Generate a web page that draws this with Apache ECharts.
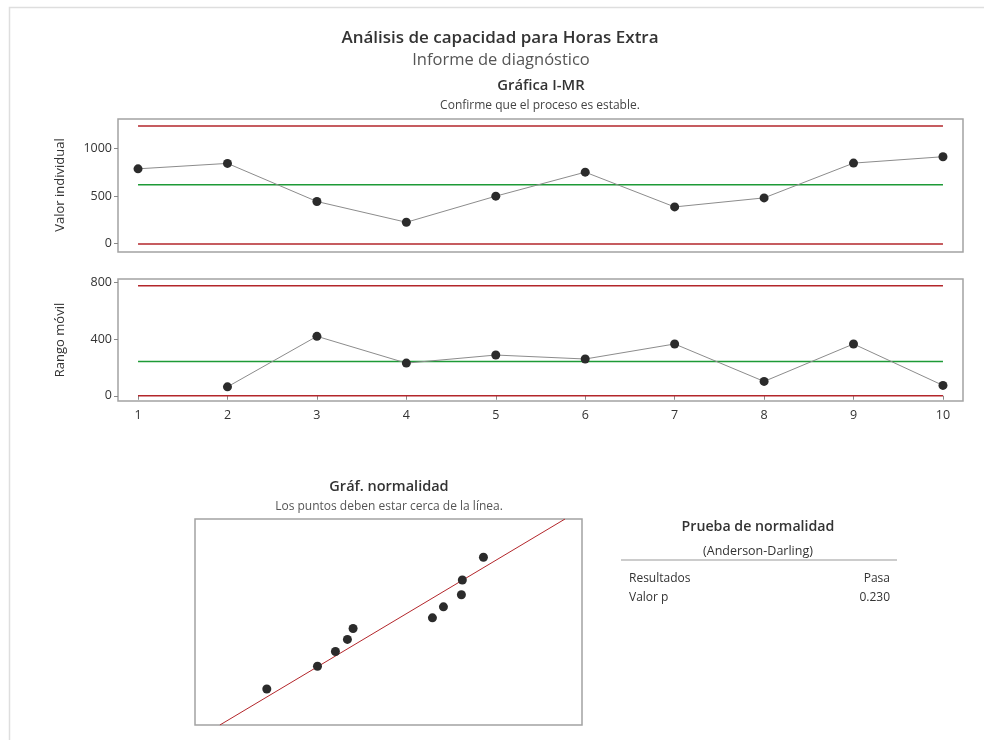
<!DOCTYPE html>
<html>
<head>
<meta charset="utf-8">
<script src="https://cdn.jsdelivr.net/npm/echarts@6/dist/echarts.min.js"></script>
<style>
html,body{margin:0;padding:0;background:#fff;}
#chart{width:984px;height:740px;}
</style>
</head>
<body>
<div id="chart"></div>
<script>
// ---- Data ----
const observations = [1, 2, 3, 4, 5, 6, 7, 8, 9, 10];
const individualValues = [785, 842, 442, 224, 498, 750, 385, 480, 845, 912];
const movingRanges = [null, 63, 419, 230, 287, 259, 365, 101, 365, 73];
const iLimits = { ucl: 1235, cl: 617, lcl: -3 };
const mrLimits = { ucl: 776, cl: 242, lcl: 0 };
const iTicks = [0, 500, 1000];
const mrTicks = [0, 400, 800];
const sortedValues = [224, 385, 442, 480, 498, 750, 785, 842, 845, 912];
const normalScores = [-1.497, -0.980, -0.645, -0.370, -0.121, 0.121, 0.370, 0.645, 0.980, 1.497];
const fitLine = [[75, -2.315], [1171, 2.367]];
const testRows = [["Resultados", "Pasa"], ["Valor p", "0.230"]];

const FONT = '"Open Sans", "Noto Sans", sans-serif';
const RED = '#b3262b', GREEN = '#1d9a36', PT = '#2b2b2b', LN = '#8c8c8c', BOX = '#a3a3a3';

const chart = echarts.init(document.getElementById('chart'), null, { renderer: 'canvas' });

function limitSeries(xi, yi, value, color, width) {
  return {
    type: 'line', xAxisIndex: xi, yAxisIndex: yi, silent: true,
    data: [[observations[0], value], [observations[observations.length - 1], value]],
    symbol: 'none', lineStyle: { color: color, width: width }, z: 2
  };
}
function pointSeries(xi, yi, vals) {
  return {
    type: 'line', xAxisIndex: xi, yAxisIndex: yi,
    data: observations.map((o, i) => [o, vals[i]]),
    connectNulls: false,
    symbol: 'circle', symbolSize: 9, showSymbol: true,
    itemStyle: { color: PT, opacity: 1 },
    lineStyle: { color: LN, width: 1 }, z: 5
  };
}
const yLabel = { color: '#333', fontSize: 12.5, fontFamily: FONT, margin: 6, formatter: v => String(v) };
const tick = { show: true, length: 4, lineStyle: { color: '#888' } };

function txt(x, y, text, font, fill, align, extra) {
  return Object.assign({ type: 'text', x: x, y: y, style: { text: text, font: font, fill: fill, align: align || 'center', verticalAlign: 'middle' } }, extra || {});
}

const option = {
  backgroundColor: '#fff',
  animation: false,
  grid: [
    { left: 118, top: 119, width: 845, height: 133, show: true, borderColor: BOX, borderWidth: 1.5, backgroundColor: '#fff' },
    { left: 118, top: 279, width: 845, height: 122, show: true, borderColor: BOX, borderWidth: 1.5, backgroundColor: '#fff' },
    { left: 195, top: 519, width: 387, height: 206, show: true, borderColor: BOX, borderWidth: 1.5, backgroundColor: '#fff' }
  ],
  xAxis: [
    { type: 'value', gridIndex: 0, min: 0.776, max: 10.224, axisLine: { show: false }, axisTick: { show: false }, axisLabel: { show: false }, splitLine: { show: false } },
    { type: 'value', gridIndex: 1, min: 0.776, max: 10.224, axisLine: { show: false },
      axisTick: Object.assign({}, tick, { customValues: observations }),
      axisLabel: { color: '#333', fontSize: 12.5, fontFamily: FONT, margin: 8, customValues: observations },
      splitLine: { show: false } },
    { type: 'value', gridIndex: 2, min: -4, max: 1225, axisLine: { show: false }, axisTick: { show: false }, axisLabel: { show: false }, splitLine: { show: false } }
  ],
  yAxis: [
    { type: 'value', gridIndex: 0, min: -88, max: 1308, axisLine: { show: false },
      axisTick: Object.assign({}, tick, { customValues: iTicks }),
      axisLabel: Object.assign({}, yLabel, { customValues: iTicks }), splitLine: { show: false } },
    { type: 'value', gridIndex: 1, min: -37, max: 823, axisLine: { show: false },
      axisTick: Object.assign({}, tick, { customValues: mrTicks }),
      axisLabel: Object.assign({}, yLabel, { customValues: mrTicks }), splitLine: { show: false } },
    { type: 'value', gridIndex: 2, min: -2.315, max: 2.367, axisLine: { show: false }, axisTick: { show: false }, axisLabel: { show: false }, splitLine: { show: false } }
  ],
  series: [
    limitSeries(0, 0, iLimits.ucl, RED, 1.5),
    limitSeries(0, 0, iLimits.cl, GREEN, 1.5),
    limitSeries(0, 0, iLimits.lcl, RED, 1.5),
    pointSeries(0, 0, individualValues),
    limitSeries(1, 1, mrLimits.ucl, RED, 1.5),
    limitSeries(1, 1, mrLimits.cl, GREEN, 1.5),
    limitSeries(1, 1, mrLimits.lcl, RED, 1.5),
    pointSeries(1, 1, movingRanges),
    { type: 'line', xAxisIndex: 2, yAxisIndex: 2, data: fitLine, symbol: 'none', lineStyle: { color: RED, width: 1 }, z: 2, silent: true },
    { type: 'scatter', xAxisIndex: 2, yAxisIndex: 2, data: sortedValues.map((v, i) => [v, normalScores[i]]), symbol: 'circle', symbolSize: 9, itemStyle: { color: PT, opacity: 1 }, z: 5 }
  ],
  graphic: [
    { type: 'polyline', shape: { points: [[9.5, 740], [9.5, 7.5], [984, 7.5]] }, style: { stroke: '#dedede', lineWidth: 1.5, fill: null }, silent: true },
    txt(500, 38, 'Análisis de capacidad para Horas Extra', '600 17px ' + FONT, '#333'),
    txt(501, 60, 'Informe de diagnóstico', '16.5px ' + FONT, '#555'),
    txt(541, 86, 'Gráfica I-MR', '600 14.8px ' + FONT, '#333'),
    txt(540, 106, 'Confirme que el proceso es estable.', '12px ' + FONT, '#444'),
    txt(60, 185, 'Valor individual', '13px ' + FONT, '#333', 'center', { rotation: Math.PI / 2 }),
    txt(60, 340, 'Rango móvil', '13px ' + FONT, '#333', 'center', { rotation: Math.PI / 2 }),
    txt(389, 487, 'Gráf. normalidad', '600 14.5px ' + FONT, '#333'),
    txt(389, 507, 'Los puntos deben estar cerca de la línea.', '12px ' + FONT, '#555'),
    txt(758, 527, 'Prueba de normalidad', '600 14.2px ' + FONT, '#333'),
    txt(758, 551, '(Anderson-Darling)', '12.5px ' + FONT, '#333'),
    { type: 'line', shape: { x1: 621, y1: 560, x2: 897, y2: 560 }, style: { stroke: '#999', lineWidth: 1 } },
    txt(629, 579, testRows[0][0], '12px ' + FONT, '#333', 'left'),
    txt(890, 579, testRows[0][1], '12px ' + FONT, '#333', 'right'),
    txt(629, 598, testRows[1][0], '12px ' + FONT, '#333', 'left'),
    txt(890, 598, testRows[1][1], '12px ' + FONT, '#333', 'right')
  ]
};
chart.setOption(option);
</script>
</body>
</html>
